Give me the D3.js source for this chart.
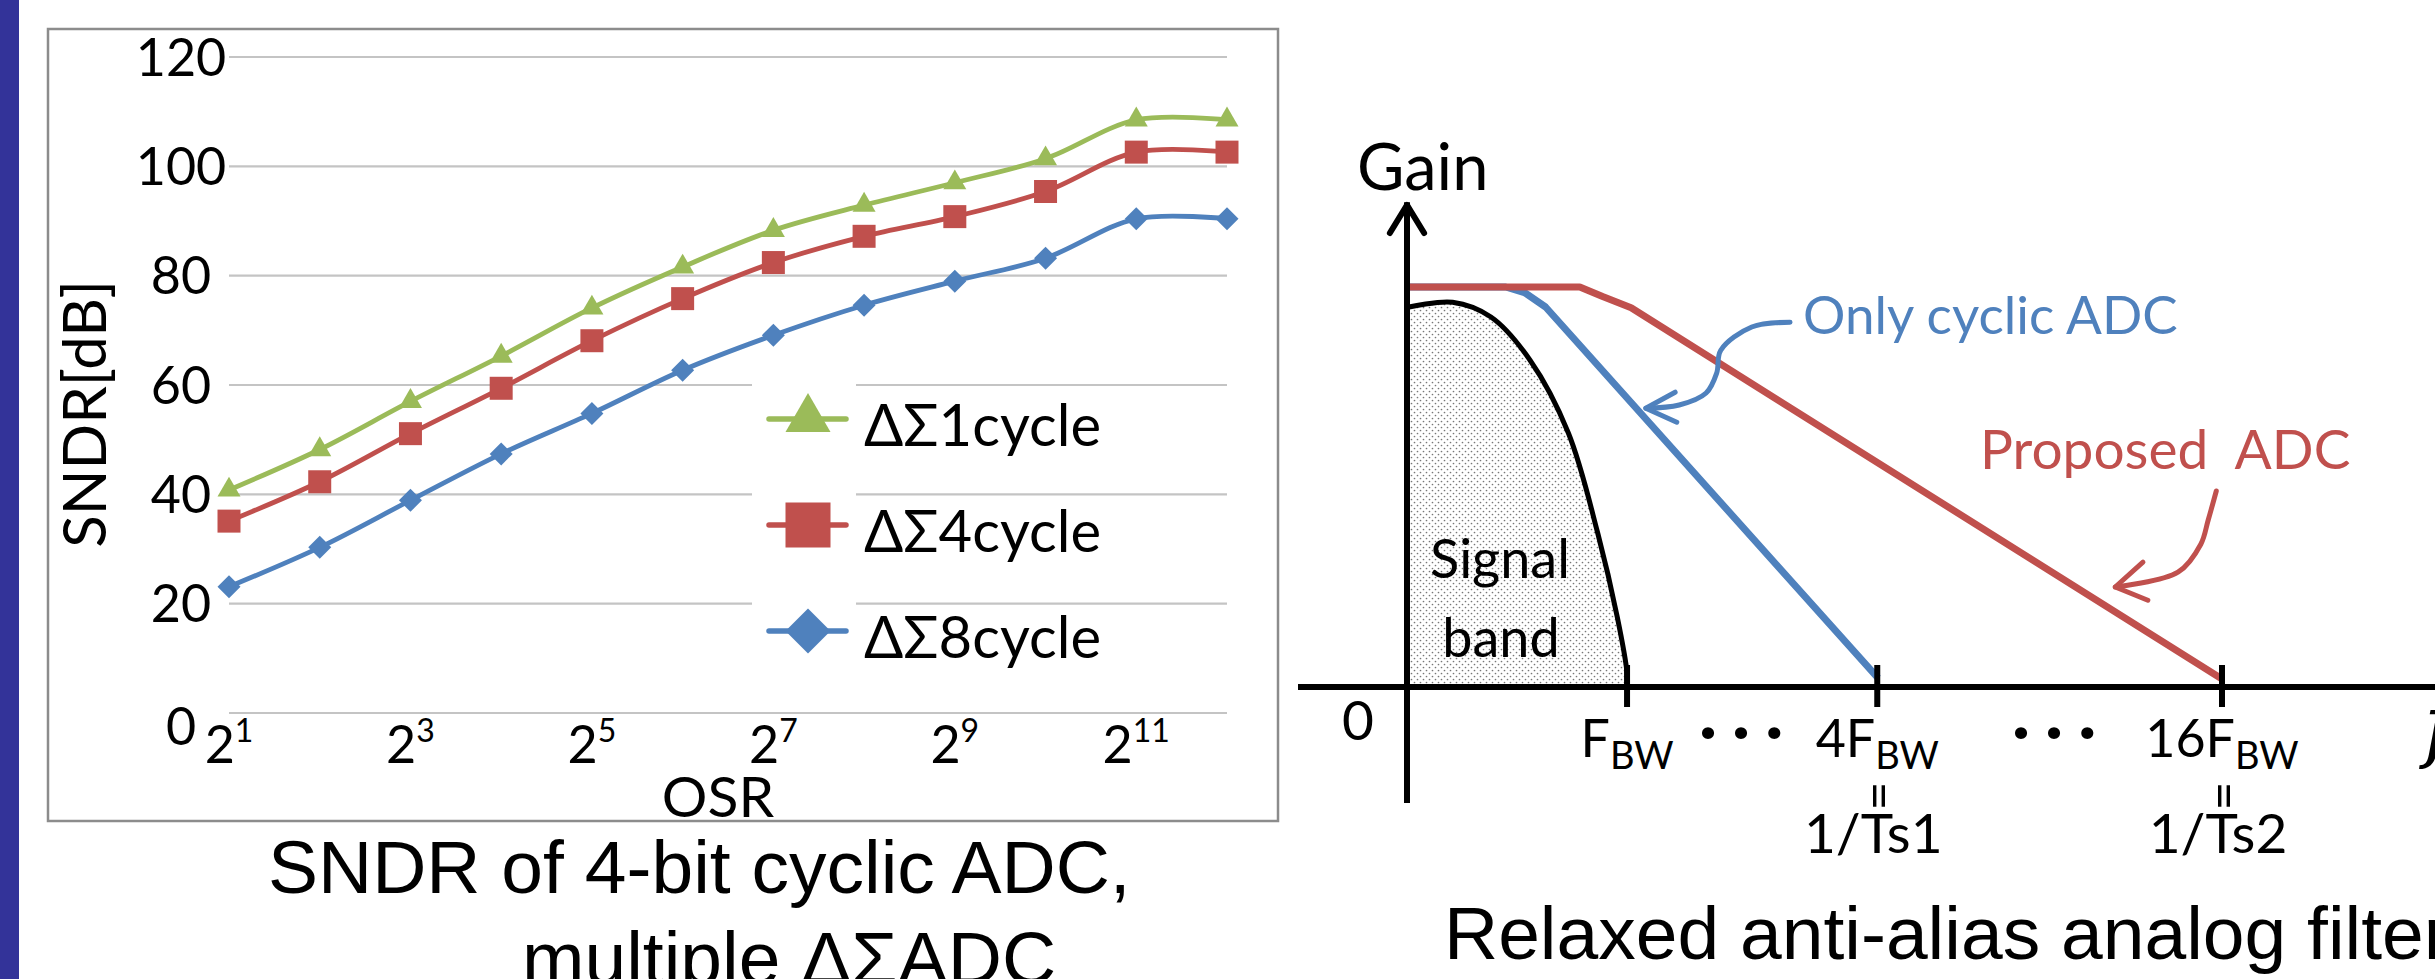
<!DOCTYPE html>
<html>
<head>
<script src='https://d3js.org/d3.v7.min.js'></script>
<style>
body {margin:0; background:#fff;}
svg text {font-family:Lato, 'Open Sans', sans-serif;}
.cap {font-family:'Liberation Sans', Arial, sans-serif !important;}
</style>
</head>
<body>
<svg width=2435 height=979></svg>
<script>
// ---------- left chart data ----------
var exps = [1,2,3,4,5,6,7,8,9,10,11,12]
var tickExps = [1,3,5,7,9,11]
var yTicks = [0,20,40,60,80,100,120]
var cyc1 = [40.8,48.2,57.0,65.3,74.1,81.6,88.3,92.9,97.0,101.4,108.5,108.5]
var cyc4 = [35.1,42.3,51.1,59.4,68.1,75.8,82.4,87.2,90.8,95.4,102.6,102.6]
var cyc8 = [23.1,30.3,38.9,47.4,54.8,62.7,69.1,74.6,79.0,83.2,90.4,90.4]
var seriesNames = ['ΔΣ1cycle','ΔΣ4cycle','ΔΣ8cycle']
var seriesColors = ['#9BBB59','#C0504D','#4F81BD']
var seriesShapes = ['triangle','square','diamond']

// ---------- right diagram data (x: fraction of axis up to 16F_BW, y: gain) ----------
var freqTicks = [0.27, 0.577, 1.0]
var freqLabels = [['', 'F'], ['4', 'F'], ['16', 'F']]
var tsLabels = [null, '1/Ts1', '1/Ts2']
var dotsPos = [0.41, 0.794]
var proposed = [[0,1],[0.212,1],[0.24,0.976],[0.275,0.948],[1.0,0.02]]
var cyclicOnly = [[0,1],[0.121,1],[0.145,0.985],[0.17,0.95],[0.578,0.022]]
var signalBand = [[0.0025,0.95],[0.056,0.962],[0.103,0.925],[0.151,0.817],[0.198,0.635],[0.234,0.385],[0.258,0.175],[0.27,0.035],[0.27,0]]
var blueArrow = [[0.47,0.912],[0.423,0.9],[0.385,0.842],[0.38,0.785],[0.367,0.735],[0.334,0.705],[0.293,0.697]]
var blueHead = [[0.329,0.737],[0.293,0.697],[0.331,0.662]]
var redArrow = [[0.993,0.49],[0.983,0.417],[0.974,0.357],[0.946,0.287],[0.869,0.25]]
var redHead = [[0.903,0.312],[0.869,0.25],[0.909,0.217]]

var svg = d3.select('svg')
svg.append('rect').attr('width',2435).attr('height',979).attr('fill','#fff')
// left side blue bar
svg.append('rect').attr('x',0).attr('y',0).attr('width',19).attr('height',979).attr('fill','#333399')

///////////// left chart /////////////
var x = d3.scaleLinear().domain([1,12]).range([229,1227])
var y = d3.scaleLinear().domain([0,120]).range([713,57])

// frame
svg.append('rect').attr('x',48).attr('y',29).attr('width',1230).attr('height',792)
   .attr('fill','none').attr('stroke','#8c8c8c').attr('stroke-width',2.5)

// gridlines
svg.append('g').selectAll('line').data(yTicks).enter().append('line')
   .attr('x1',x(1)).attr('x2',x(12))
   .attr('y1',function(d){return y(d)}).attr('y2',function(d){return y(d)})
   .attr('stroke','#c4c4c4').attr('stroke-width',2.2)

// y tick labels (centred, as in the source)
svg.append('g').selectAll('text').data(yTicks).enter().append('text')
   .attr('x',181)
   .attr('y',function(d){return y(d) + (d==0 ? 13 : 0)})
   .attr('dy','0.36em')
   .attr('text-anchor','middle')
   .attr('font-size',52)
   .text(function(d){return d})

// x tick labels 2^n
var xl = svg.append('g').selectAll('text').data(tickExps).enter().append('text')
   .attr('x',function(d){return x(d)})
   .attr('y',763)
   .attr('text-anchor','middle')
   .attr('font-size',52)
xl.append('tspan').text('2')
xl.append('tspan').attr('font-size',32).attr('dy',-21).text(function(d){return d})

// axis titles
svg.append('text').attr('x',718).attr('y',817).attr('text-anchor','middle')
   .attr('font-size',57).text('OSR')
svg.append('text').attr('transform','translate(106,414) rotate(-90)')
   .attr('text-anchor','middle').attr('font-size',60).text('SNDR[dB]')

// white patch behind legend keys
svg.append('rect').attr('x',752).attr('y',365).attr('width',104).attr('height',320).attr('fill','#fff')

var allSeries = [cyc1,cyc4,cyc8]
var line = d3.line()
   .x(function(d,i){return x(exps[i])})
   .y(function(d){return y(d)})
   .curve(d3.curveCatmullRom.alpha(0.5))

function marker(shape, w) {
  if (shape=='triangle') return d3.symbol(d3.symbolTriangle, Math.sqrt(3)/4*w*w)()
  if (shape=='square') return d3.symbol(d3.symbolSquare, w*w)()
  return d3.symbol(d3.symbolSquare, w*w/2)()
}

// draw series back to front: blue, red, green
;[2,1,0].forEach(function(k){
  svg.append('path').datum(allSeries[k]).attr('d',line)
     .attr('fill','none').attr('stroke',seriesColors[k]).attr('stroke-width',4.8)
  svg.append('g').selectAll('path').data(allSeries[k]).enter().append('path')
     .attr('d',marker(seriesShapes[k],23))
     .attr('transform',function(d,i){
        return 'translate('+x(exps[i])+','+y(d)+')'+(seriesShapes[k]=='diamond' ? ' rotate(45)' : '')})
     .attr('fill',seriesColors[k])
})

// legend
var leg = svg.append('g').selectAll('g').data(seriesNames).enter().append('g')
   .attr('transform',function(d,i){return 'translate(808,'+(419+i*106)+')'})
leg.append('line').attr('x1',-39).attr('x2',38).attr('stroke-width',5.5)
   .attr('stroke',function(d,i){return seriesColors[i]}).attr('stroke-linecap','round')
leg.append('path')
   .attr('d',function(d,i){return marker(seriesShapes[i],45)})
   .attr('transform',function(d,i){return seriesShapes[i]=='diamond' ? 'rotate(45)' : ''})
   .attr('fill',function(d,i){return seriesColors[i]})
leg.append('text').attr('x',56).attr('y',27).attr('font-size',58)
   .text(function(d){return d})

// caption
svg.append('text').attr('class','cap').attr('x',268).attr('y',893).attr('font-size',75)
   .text('SNDR of 4-bit cyclic ADC,')
svg.append('text').attr('class','cap').attr('x',522).attr('y',984).attr('font-size',75)
   .text('multiple ΔΣADC')

///////////// right diagram /////////////
var gx = d3.scaleLinear().domain([0,1]).range([1407,2222])
var gy = d3.scaleLinear().domain([0,1]).range([687,287])

// dotted fill pattern
var pat = svg.append('defs').append('pattern').attr('id','dots')
   .attr('patternUnits','userSpaceOnUse').attr('width',6).attr('height',6)
pat.append('circle').attr('cx',1.5).attr('cy',1.5).attr('r',0.85).attr('fill','#777')
pat.append('circle').attr('cx',4.5).attr('cy',4.5).attr('r',0.85).attr('fill','#777')

var dline = d3.line().x(function(d){return gx(d[0])}).y(function(d){return gy(d[1])})

// signal band
var bandArea = d3.area().x(function(d){return gx(d[0])})
   .y0(gy(0)).y1(function(d){return gy(d[1])})
   .curve(d3.curveCatmullRom.alpha(0.5))
svg.append('path').datum([[0,0.95]].concat(signalBand)).attr('d',bandArea)
   .attr('fill','url(#dots)')
svg.append('path').datum(signalBand).attr('d',dline.curve(d3.curveCatmullRom.alpha(0.5)))
   .attr('fill','none').attr('stroke','#000').attr('stroke-width',5)

// filter responses
svg.append('path').datum(cyclicOnly)
   .attr('d',d3.line().x(function(d){return gx(d[0])}).y(function(d){return gy(d[1])}))
   .attr('fill','none').attr('stroke','#4F81BD').attr('stroke-width',7).attr('stroke-linejoin','round')
svg.append('path').datum(proposed)
   .attr('d',d3.line().x(function(d){return gx(d[0])}).y(function(d){return gy(d[1])}))
   .attr('fill','none').attr('stroke','#C0504D').attr('stroke-width',7).attr('stroke-linejoin','round')

// axes
svg.append('line').attr('x1',1298).attr('x2',2435).attr('y1',gy(0)).attr('y2',gy(0))
   .attr('stroke','#000').attr('stroke-width',6)
svg.append('line').attr('x1',gx(0)).attr('x2',gx(0)).attr('y1',gy(1.212)).attr('y2',803)
   .attr('stroke','#000').attr('stroke-width',6)
svg.append('path').attr('d',d3.line().x(function(d){return gx(d[0])}).y(function(d){return gy(d[1])})([[-0.021,1.135],[0,1.205],[0.021,1.135]]))
   .attr('fill','none').attr('stroke','#000').attr('stroke-width',6)
   .attr('stroke-linecap','round').attr('stroke-linejoin','round')

// ticks
svg.append('g').selectAll('line').data(freqTicks).enter().append('line')
   .attr('x1',function(d){return gx(d)}).attr('x2',function(d){return gx(d)})
   .attr('y1',gy(0.055)).attr('y2',gy(-0.05))
   .attr('stroke','#000').attr('stroke-width',6)

// annotation arrows
var smooth = d3.line().x(function(d){return gx(d[0])}).y(function(d){return gy(d[1])}).curve(d3.curveCatmullRom.alpha(0.5))
var straight = d3.line().x(function(d){return gx(d[0])}).y(function(d){return gy(d[1])})
svg.append('path').datum(blueArrow).attr('d',smooth)
   .attr('fill','none').attr('stroke','#4F81BD').attr('stroke-width',5).attr('stroke-linecap','round')
svg.append('path').datum(blueHead).attr('d',straight)
   .attr('fill','none').attr('stroke','#4F81BD').attr('stroke-width',5).attr('stroke-linecap','round').attr('stroke-linejoin','round')
svg.append('path').datum(redArrow).attr('d',smooth)
   .attr('fill','none').attr('stroke','#C0504D').attr('stroke-width',5).attr('stroke-linecap','round')
svg.append('path').datum(redHead).attr('d',straight)
   .attr('fill','none').attr('stroke','#C0504D').attr('stroke-width',5).attr('stroke-linecap','round').attr('stroke-linejoin','round')

// texts
svg.append('text').attr('x',1357).attr('y',190).attr('font-size',65).text('Gain')
svg.append('text').attr('x',1358).attr('y',740).attr('text-anchor','middle').attr('font-size',55).text('0')
svg.append('text').attr('x',1500).attr('y',578).attr('text-anchor','middle').attr('font-size',54).text('Signal')
svg.append('text').attr('x',1501).attr('y',657).attr('text-anchor','middle').attr('font-size',54).text('band')
svg.append('text').attr('x',1803).attr('y',334).attr('font-size',53).attr('fill','#4F81BD').text('Only cyclic ADC')
svg.append('text').attr('x',1980).attr('y',469).attr('font-size',55).attr('fill','#C0504D').attr('xml:space','preserve').text('Proposed  ADC')

var fl = svg.append('g').selectAll('text').data(freqTicks).enter().append('text')
   .attr('x',function(d){return gx(d)}).attr('y',757).attr('text-anchor','middle').attr('font-size',52)
fl.append('tspan').text(function(d,i){return freqLabels[i][0]+freqLabels[i][1]})
fl.append('tspan').attr('font-size',38).attr('dy',12).text('BW')

svg.append('g').selectAll('text').data(freqTicks.filter(function(d,i){return tsLabels[i]})).enter().append('text')
   .attr('x',function(d){return gx(d)-4}).attr('y',853).attr('text-anchor','middle').attr('font-size',55)
   .text(function(d,i){return tsLabels[i+1]})
svg.append('g').selectAll('text').data(freqTicks.slice(1)).enter().append('text')
   .attr('transform',function(d){return 'translate('+gx(d)+',796) rotate(90)'})
   .attr('text-anchor','middle').attr('dy','0.3em').attr('font-size',50).text('=')

// dots between labels
svg.append('g').selectAll('text').data(dotsPos).enter().append('text')
   .attr('x',function(d){return gx(d)}).attr('y',752).attr('text-anchor','middle')
   .attr('font-size',64).attr('font-weight','bold').attr('xml:space','preserve').text('· · ·')

svg.append('text').attr('x',2424).attr('y',752).attr('font-size',80)
   .attr('font-style','italic').style('font-family','"DejaVu Serif", serif').text('f')

svg.append('text').attr('class','cap').attr('x',1444).attr('y',959).attr('font-size',75)
   .text('Relaxed anti-alias analog filter')
</script>
</body>
</html>
